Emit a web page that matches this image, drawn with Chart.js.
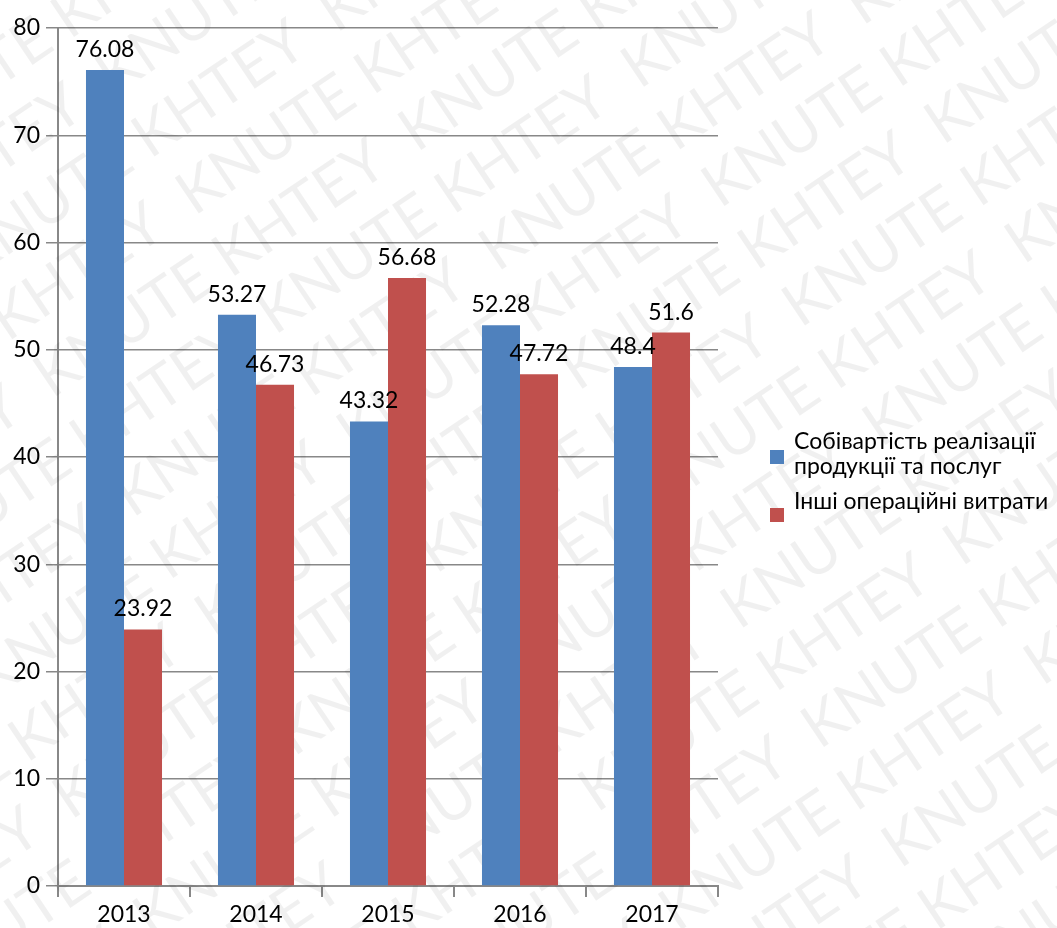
<!DOCTYPE html>
<html><head><meta charset="utf-8">
<script src="https://cdn.jsdelivr.net/npm/chart.js"></script>
<style>html,body{margin:0;padding:0;background:#fff}#c{display:block}</style>
</head><body>
<canvas id="c" width="1057" height="928"></canvas>
<script>
const categories = ['2013','2014','2015','2016','2017'];
const seriesNames = ['Собівартість реалізації продукції та послуг','Інші операційні витрати'];
const costValues = [76.08, 53.27, 43.32, 52.28, 48.4];
const otherValues = [23.92, 46.73, 56.68, 47.72, 51.6];
const legendLines = [['Собівартість реалізації','продукції та послуг'],['Інші операційні витрати']];
const colors = ['#4F81BD','#C0504D'];
const FONT = 'Lato, Carlito, sans-serif';

const watermark = {
  id:'watermark',
  beforeDatasetsDraw(chart){
    const ctx = chart.ctx;
    ctx.save();
    ctx.fillStyle = 'rgba(0,0,0,0.06)';
    ctx.font = '60px ' + FONT;
    ctx.rotate(-34*Math.PI/180);
    for (let r=-10;r<25;r++){
      for (let k=-5;k<8;k++){
        ctx.fillText('KNUTE KHTEY', k*440 + (r%2)*220 - 400, r*72);
      }
    }
    ctx.restore();
  }
};

const labelsPlugin = {
  id:'dlabels',
  afterDatasetsDraw(chart){
    const ctx = chart.ctx;
    ctx.save();
    ctx.font = '23px ' + FONT;
    ctx.fillStyle = '#000';
    ctx.textAlign = 'center';
    ctx.textBaseline = 'alphabetic';
    chart.data.datasets.forEach((ds,i)=>{
      chart.getDatasetMeta(i).data.forEach((bar,j)=>{
        ctx.fillText(String(ds.data[j]), bar.x, bar.y - 13);
      });
    });
    ctx.restore();
  }
};

const legendPlugin = {
  id:'customLegend',
  afterDraw(chart){
    const ctx = chart.ctx;
    ctx.save();
    ctx.font = '23px ' + FONT;
    ctx.textBaseline = 'middle';
    const x = 770;
    ctx.fillStyle = colors[0];
    ctx.fillRect(x, 450, 14, 14);
    ctx.fillStyle = '#000';
    ctx.fillText(legendLines[0][0], x+24, 442);
    ctx.fillText(legendLines[0][1], x+24, 467);
    ctx.fillStyle = colors[1];
    ctx.fillRect(x, 508, 14, 14);
    ctx.fillStyle = '#000';
    ctx.fillText(legendLines[1][0], x+24, 502);
    ctx.restore();
  }
};

new Chart(document.getElementById('c'), {
  type:'bar',
  data:{
    labels: categories,
    datasets:[
      {label: seriesNames[0], data: costValues, backgroundColor: colors[0]},
      {label: seriesNames[1], data: otherValues, backgroundColor: colors[1]}
    ]
  },
  options:{
    responsive:false,
    animation:false,
    devicePixelRatio:1,
    layout:{padding:{left:0,right:339,top:28,bottom:0}},
    datasets:{bar:{categoryPercentage:0.576, barPercentage:1}},
    plugins:{legend:{display:false}, tooltip:{enabled:false}},
    scales:{
      x:{
        offset:true,
        afterFit(s){ s.height = 42; },
        grid:{offset:true, drawOnChartArea:false, color:'#888', tickLength:11, lineWidth:2},
        border:{color:'#888', width:2},
        ticks:{font:{family:FONT,size:23}, color:'#000', padding:4}
      },
      y:{
        min:0, max:80,
        afterFit(s){ s.width = 58; },
        ticks:{stepSize:10, font:{family:FONT,size:23}, color:'#000', padding:6},
        grid:{color:'#888', tickLength:12, lineWidth:1.5},
        border:{color:'#888', width:2}
      }
    }
  },
  plugins:[watermark, labelsPlugin, legendPlugin]
});
</script>
</body></html>
